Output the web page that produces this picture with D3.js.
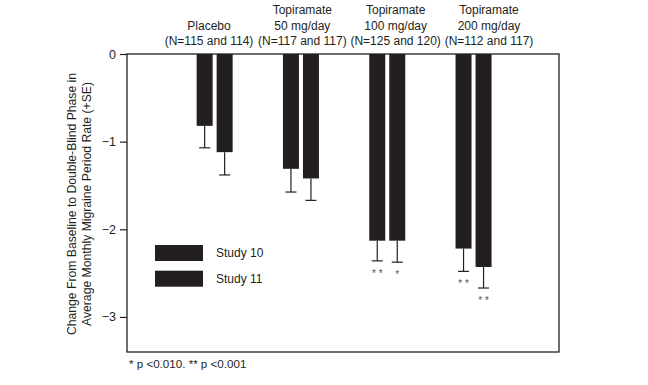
<!DOCTYPE html>
<html>
<head>
<meta charset="utf-8">
<script src="https://cdn.jsdelivr.net/npm/d3@7"></script>
<style>
  body { margin: 0; background: #fff; }
  text { font-family: "Liberation Sans", Arial, sans-serif; fill: #231f20; }
</style>
</head>
<body>
<svg id="chart"></svg>
<script>
const groups = ["placebo", "top50", "top100", "top200"];
const headerLines = [
    ["Placebo", "(N=115 and 114)"],
    ["Topiramate", "50 mg/day", "(N=117 and 117)"],
    ["Topiramate", "100 mg/day", "(N=125 and 120)"],
    ["Topiramate", "200 mg/day", "(N=112 and 117)"]
];
const studies = ["Study 10", "Study 11"];
const study10 = [-0.82, -1.31, -2.13, -2.22];
const study11 = [-1.12, -1.42, -2.13, -2.43];
const se10 = [0.25, 0.265, 0.23, 0.26];
const se11 = [0.26, 0.25, 0.245, 0.24];
const stars10 = ["", "", "* *", "* *"];
const stars11 = ["", "", "*", "* *"];
const yTicks = [0, -1, -2, -3];
const footnote = "* p <0.010. ** p <0.001";
const yTitle = ["Change From Baseline to Double-Blind Phase in", "Average Monthly Migraine Period Rate (+SE)"];

const width = 648, height = 385;
const svg = d3.select("#chart").attr("width", width).attr("height", height);
const ink = "#231f20";

const plot = {left: 127, right: 559, top: 54, bottom: 352};

const y = d3.scaleLinear().domain([-3.4, 0]).range([plot.bottom, plot.top]);
const x0 = d3.scaleBand().domain(groups).range([171.5, 516.7]);
const x1 = d3.scaleBand().domain(studies).range([-18, 18]).paddingInner(0.2);
const xHead = d3.scalePoint().domain(groups).range([209, 489]);

const rows = groups.flatMap((g, i) => [
    {g, s: studies[0], v: study10[i], se: se10[i], star: stars10[i]},
    {g, s: studies[1], v: study11[i], se: se11[i], star: stars11[i]}
]);
const cx = d => x0(d.g) + x0.bandwidth() / 2 + x1(d.s);
const mid = d => cx(d) + x1.bandwidth() / 2;

// frame
svg.append("rect")
    .attr("x", plot.left).attr("y", plot.top)
    .attr("width", plot.right - plot.left).attr("height", plot.bottom - plot.top)
    .attr("fill", "none").attr("stroke", ink).attr("stroke-width", 1.3);

// y axis
const yAxis = svg.append("g")
    .attr("transform", `translate(${plot.left},0)`)
    .call(d3.axisLeft(y).tickValues(yTicks).tickSize(7).tickPadding(4).tickFormat(d3.format("d")));
yAxis.select(".domain").remove();
yAxis.selectAll(".tick line").attr("stroke", ink).attr("stroke-width", 1.2);
yAxis.selectAll(".tick text").style("font-size", "12.5px").attr("font-family", null);

// error bars
const err = svg.append("g");
err.selectAll("line.v").data(rows).join("line")
    .attr("x1", mid).attr("x2", mid)
    .attr("y1", d => y(d.v)).attr("y2", d => y(d.v - d.se))
    .attr("stroke", ink).attr("stroke-width", 1.2);
err.selectAll("line.cap").data(rows).join("line")
    .attr("x1", d => mid(d) - 5.5).attr("x2", d => mid(d) + 5.5)
    .attr("y1", d => y(d.v - d.se)).attr("y2", d => y(d.v - d.se))
    .attr("stroke", ink).attr("stroke-width", 1.2);

// bars
svg.append("g").selectAll("rect").data(rows).join("rect")
    .attr("x", cx)
    .attr("y", y(0))
    .attr("width", x1.bandwidth())
    .attr("height", d => y(d.v) - y(0))
    .attr("fill", ink);

// significance stars
svg.append("g").selectAll("text").data(rows.filter(d => d.star)).join("text")
    .attr("x", mid)
    .attr("y", d => y(d.v - d.se) + 16)
    .attr("text-anchor", "middle")
    .style("font-size", "10px")
    .style("fill", "#555")
    .text(d => d.star);

// group headers (bottom-aligned above the frame)
const head = svg.append("g");
groups.forEach((g, i) => {
    const lines = headerLines[i];
    lines.forEach((t, j) => {
        head.append("text")
            .attr("x", xHead(g))
            .attr("y", 45 - (lines.length - 1 - j) * 15.5)
            .attr("text-anchor", "middle")
            .style("font-size", "12px")
            .text(t);
    });
});

// y title
yTitle.forEach((t, i) => {
    svg.append("text")
        .attr("transform", `translate(${76 + i * 15},204) rotate(-90)`)
        .attr("text-anchor", "middle")
        .style("font-size", "12.2px")
        .text(t);
});

// legend
const legend = svg.append("g");
studies.forEach((s, i) => {
    legend.append("rect")
        .attr("x", 155).attr("y", 245 + i * 25.7)
        .attr("width", 48).attr("height", 16)
        .attr("fill", ink);
    legend.append("text")
        .attr("x", 216).attr("y", 253 + i * 25.7)
        .attr("dy", "0.35em")
        .style("font-size", "12px")
        .text(s);
});

// footnote
svg.append("text")
    .attr("x", 129).attr("y", 368)
    .style("font-size", "11.6px")
    .text(footnote);
</script>
</body>
</html>
